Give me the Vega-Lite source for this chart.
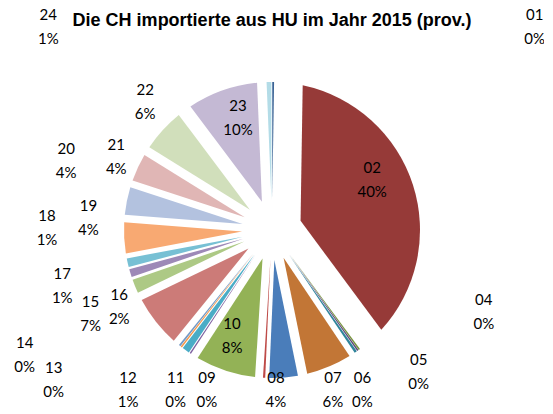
{
  "$schema": "https://vega.github.io/schema/vega-lite/v6.json",
  "width": 544,
  "height": 460,
  "autosize": {"type": "none"},
  "padding": {"left": 0, "top": 0, "right": 0, "bottom": 0},
  "background": "white",
  "title": {
    "text": "Die CH importierte aus HU im Jahr 2015 (prov.)",
    "font": "Liberation Sans",
    "fontSize": 18,
    "fontWeight": "bold",
    "color": "#000000",
    "anchor": "middle",
    "offset": 0,
    "dy": 30
  },
  "data": {
    "values": [
      {"code": "01", "n": 1, "share": 0.0025},
      {"code": "02", "n": 2, "share": 0.396},
      {"code": "04", "n": 4, "share": 0.002},
      {"code": "05", "n": 5, "share": 0.002},
      {"code": "06", "n": 6, "share": 0.0035},
      {"code": "07", "n": 7, "share": 0.062},
      {"code": "08", "n": 8, "share": 0.039},
      {"code": "09", "n": 9, "share": 0.003},
      {"code": "10", "n": 10, "share": 0.082},
      {"code": "11", "n": 11, "share": 0.002},
      {"code": "12", "n": 12, "share": 0.010},
      {"code": "13", "n": 13, "share": 0.002},
      {"code": "14", "n": 14, "share": 0.0025},
      {"code": "15", "n": 15, "share": 0.070},
      {"code": "16", "n": 16, "share": 0.019},
      {"code": "17", "n": 17, "share": 0.011},
      {"code": "18", "n": 18, "share": 0.012},
      {"code": "19", "n": 19, "share": 0.042},
      {"code": "20", "n": 20, "share": 0.038},
      {"code": "21", "n": 21, "share": 0.038},
      {"code": "22", "n": 22, "share": 0.059},
      {"code": "23", "n": 23, "share": 0.096},
      {"code": "24", "n": 24, "share": 0.0065}
    ]
  },
  "layer": [
    {
      "mark": {
        "type": "arc",
        "outerRadius": 148,
        "innerRadius": 30,
        "padAngle": {"expr": "2*asin(30*sin(datum.share*PI)/151)"}
      },
      "encoding": {
        "theta": {"field": "share", "type": "quantitative", "stack": true},
        "order": {"field": "n", "type": "quantitative", "sort": "ascending"},
        "color": {
          "field": "code",
          "type": "nominal",
          "legend": null,
          "scale": {
            "domain": ["01","02","04","05","06","07","08","09","10","11","12","13","14","15","16","17","18","19","20","21","22","23","24"],
            "range": ["#3B6496","#963A38","#77933C","#604A7B","#31859C","#C27636","#4A7DBA","#BE4B48","#93B256","#7D60A0","#4AACC6","#F79646","#7399C6","#CC7B78","#ADC985","#9D89B7","#77C0D4","#F8A972","#B3C2DF","#E0B6B5","#D1DFBB","#C4B9D4","#B3DCE7"]
          }
        }
      }
    },
    {
      "mark": {"type": "text", "dy": -12, "font": "Lato", "fontSize": 15, "color": "#000000"},
      "encoding": {
        "theta": {
          "field": "n", "type": "quantitative", "stack": null,
          "scale": {
            "type": "linear", "zero": false, "nice": false,
            "domain": [1,2,4,5,6,7,8,9,10,11,12,13,14,15,16,17,18,19,20,21,22,23,24],
            "range": [0.913,1.107,1.939,2.339,2.628,2.777,3.117,3.527,3.503,3.683,3.875,4.110,4.245,4.278,4.246,4.453,4.721,4.777,5.035,5.151,5.501,5.988,5.449]
          }
        },
        "radius": {
          "field": "n", "type": "quantitative",
          "scale": {
            "type": "linear", "zero": false, "nice": false,
            "domain": [1,2,4,5,6,7,8,9,10,11,12,13,14,15,16,17,18,19,20,21,22,23,24],
            "range": [332,112,227,204,184,171,160,173,113,187,215,265,277,200,171,217,225,184,217,172,180,117,302]
          }
        },
        "text": {"field": "code", "type": "nominal"}
      }
    },
    {
      "mark": {"type": "text", "dy": 12, "font": "Lato", "fontSize": 15, "color": "#000000"},
      "encoding": {
        "theta": {
          "field": "n", "type": "quantitative", "stack": null,
          "scale": {
            "type": "linear", "zero": false, "nice": false,
            "domain": [1,2,4,5,6,7,8,9,10,11,12,13,14,15,16,17,18,19,20,21,22,23,24],
            "range": [0.913,1.107,1.939,2.339,2.628,2.777,3.117,3.527,3.503,3.683,3.875,4.110,4.245,4.278,4.246,4.453,4.721,4.777,5.035,5.151,5.501,5.988,5.449]
          }
        },
        "radius": {
          "field": "n", "type": "quantitative",
          "scale": {
            "type": "linear", "zero": false, "nice": false,
            "domain": [1,2,4,5,6,7,8,9,10,11,12,13,14,15,16,17,18,19,20,21,22,23,24],
            "range": [332,112,227,204,184,171,160,173,113,187,215,265,277,200,171,217,225,184,217,172,180,117,302]
          }
        },
        "text": {"field": "share", "type": "quantitative", "format": ".0%"}
      }
    }
  ],
  "resolve": {"scale": {"theta": "independent", "radius": "independent"}},
  "config": {"view": {"stroke": null}}
}
